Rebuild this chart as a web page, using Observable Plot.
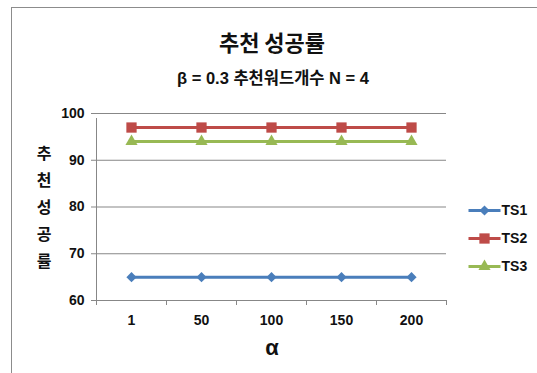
<!DOCTYPE html>
<html><head><meta charset="utf-8">
<script src="https://cdn.jsdelivr.net/npm/d3@7"></script>
<script src="https://cdn.jsdelivr.net/npm/@observablehq/plot@0.6"></script>
<style>
body{margin:0;background:#fff;overflow:hidden;}
#wrap{position:relative;width:537px;height:373px;overflow:hidden;font-family:"Liberation Sans","Noto Sans CJK KR",sans-serif;font-weight:bold;color:#111;background:#fff;}
#frame{position:absolute;left:11px;top:7px;width:700px;height:500px;border:1px solid #8c8c8c;box-sizing:border-box;}
#title{position:absolute;left:0;width:544px;top:28px;height:26px;line-height:26px;font-size:22px;text-align:center;font-family:"Noto Sans CJK KR",sans-serif;}
#subtitle{position:absolute;left:0;width:546px;top:68px;height:20px;line-height:20px;font-size:16.5px;text-align:center;font-family:"Liberation Sans","Noto Sans CJK KR",sans-serif;}
#ylab{position:absolute;left:34px;width:20px;top:139px;line-height:27px;font-size:16px;text-align:center;font-family:"Noto Sans CJK KR",sans-serif;}
#xlab{position:absolute;left:250px;width:44px;top:336px;line-height:24px;font-size:22px;text-align:center;}
#main{position:absolute;left:0;top:0;}
#legend{position:absolute;left:462px;top:190px;}
</style></head><body>
<div id="wrap">
  <div id="frame"></div>
  <div id="title">추천 성공률</div>
  <div id="subtitle">β = 0.3 추천워드개수 N = 4</div>
  <div id="ylab">추<br>천<br>성<br>공<br>률</div>
  <div id="xlab">α</div>
  <div id="main"></div>
  <div id="legend"></div>
</div>
<script>
const alphas = ["1", "50", "100", "150", "200"];
const series = ["TS1", "TS2", "TS3"];
const ts1 = [65, 65, 65, 65, 65];
const ts2 = [97, 97, 97, 97, 97];
const ts3 = [94, 94, 94, 94, 94];
const yTicks = [60, 70, 80, 90, 100];
const colors = ["#4a7ebb", "#be4b48", "#98b954"];
const symbols = ["diamond2", "square", "triangle"];
const radii = [4.6, 5.8, 4.5];

const values = [ts1, ts2, ts3];
const data = [];
series.forEach((s, k) => values[k].forEach((v, i) => data.push({i, alpha: alphas[i], series: s, value: v, r: radii[k]})));
const bounds = d3.range(alphas.length + 1).map(i => i - 0.5);
const x0 = -0.5;
const grid = "#878787";

const font = {fontFamily: '"Liberation Sans","Noto Sans CJK KR",sans-serif', fontWeight: "bold", fontSize: "14px", color: "#111", background: "transparent", overflow: "visible"};

const main = Plot.plot({
  width: 537, height: 373,
  marginLeft: 96, marginRight: 91, marginTop: 113, marginBottom: 73,
  style: font,
  x: {domain: [x0, alphas.length - 0.5], axis: null},
  y: {domain: [d3.min(yTicks), d3.max(yTicks)], axis: null},
  color: {domain: series, range: colors},
  symbol: {domain: series, range: symbols},
  r: {type: "identity"},
  marks: [
    Plot.ruleY(yTicks, {stroke: grid, strokeWidth: 1}),
    Plot.ruleY(yTicks, {x1: x0, x2: x0, insetLeft: -5, stroke: grid}),
    Plot.ruleX([x0], {y1: d3.min(yTicks), y2: d3.max(yTicks), insetBottom: -5, stroke: grid}),
    Plot.ruleX(bounds, {y1: d3.min(yTicks), y2: d3.min(yTicks), insetBottom: -5, stroke: grid}),
    Plot.text(yTicks, {x: x0, y: d => d, text: d => String(d), textAnchor: "end", dx: -12, fill: "#111"}),
    Plot.text(alphas, {x: (d, i) => i, y: d3.min(yTicks), text: d => d, dy: 20, fill: "#111"}),
    Plot.line(data, {x: "i", y: "value", z: "series", stroke: "series", strokeWidth: 3}),
    Plot.dot(data, {x: "i", y: "value", fill: "series", symbol: "series", r: "r", stroke: "none"})
  ]
});
document.getElementById("main").append(main);

const legend = Plot.plot({
  width: 75, height: 90,
  marginLeft: 6, marginRight: 37, marginTop: 19, marginBottom: 14,
  style: font,
  x: {domain: [0, 1], axis: null},
  y: {type: "point", domain: series, axis: null, padding: 0},
  color: {domain: series, range: colors},
  symbol: {domain: series, range: symbols},
  r: {type: "identity"},
  marks: [
    Plot.link(series, {x1: 0, x2: 1, y1: d => d, y2: d => d, stroke: d => d, strokeWidth: 3}),
    Plot.dot(series, {x: 0.5, y: d => d, fill: d => d, symbol: d => d, r: (d, k) => radii[k], stroke: "none"}),
    Plot.text(series, {x: 1, y: d => d, text: d => d, textAnchor: "start", dx: 1, fill: "#111"})
  ]
});
document.getElementById("legend").append(legend);
</script>
</body></html>
